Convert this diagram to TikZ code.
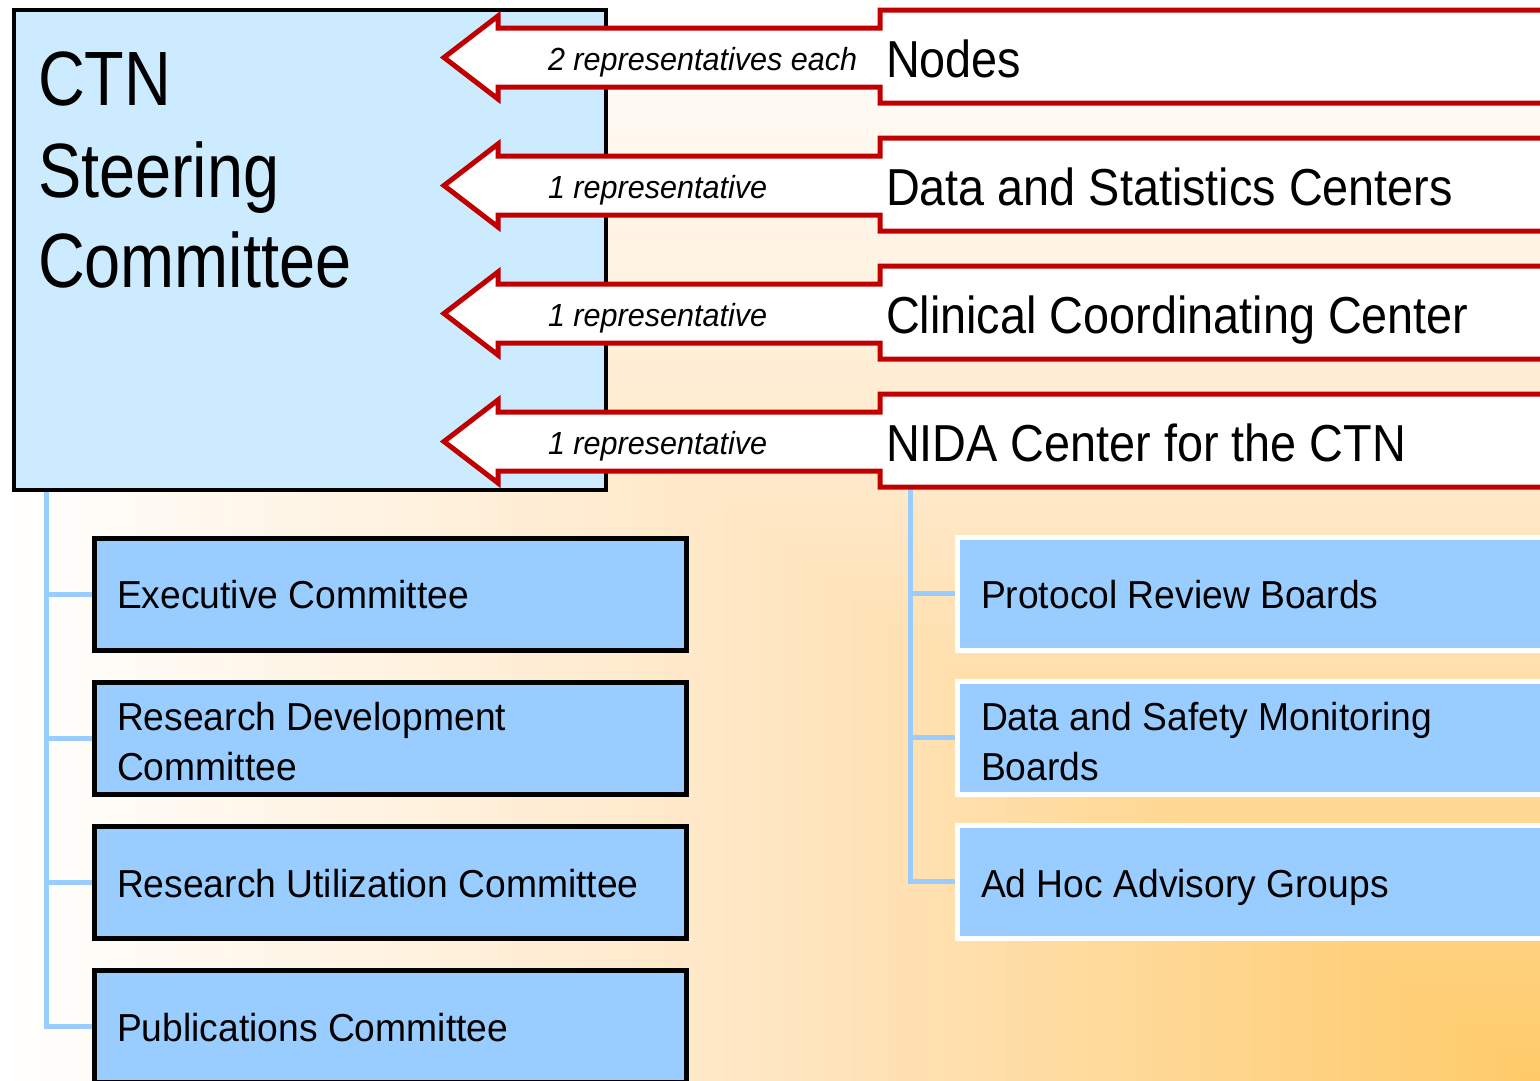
\documentclass[tikz,border=0pt]{standalone}
\usepackage{fontspec}
\setmainfont{Liberation Sans}[FakeStretch=0.82]
\newfontfamily\fsteer{Liberation Sans}[FakeStretch=0.842]
\newfontfamily\fgrp{Liberation Sans}[FakeStretch=0.90]
\newfontfamily\fsub{Liberation Sans}[FakeStretch=0.955]
\definecolor{bgor}{HTML}{FFCA68}
\definecolor{bgmid}{HTML}{FFE6C2}
\definecolor{steerfill}{HTML}{CCEBFF}
\definecolor{subfill}{HTML}{99CCFF}
\definecolor{redline}{HTML}{C00000}
\begin{document}
\begin{tikzpicture}[x=1pt,y=-1pt,
  box/.style={rectangle, draw, line width=5pt, outer sep=0pt, inner sep=0pt, anchor=north west},
  leftbox/.style={box, draw=black, fill=subfill, minimum width=592pt, minimum height=112pt},
  rightbox/.style={box, draw=white, fill=subfill, minimum width=650pt, minimum height=112.5pt},
  conn/.style={draw=subfill, line width=5pt, shorten >=2.5pt},
  redshape/.style={draw=redline, fill=white, line width=5pt, line join=miter},
  txt/.style={anchor=base west, inner sep=0pt, outer sep=0pt},
  steertxt/.style={txt, font=\fsteer\fontsize{77}{91}\selectfont},
  subtxt/.style={txt, font=\fsub\fontsize{39}{50}\selectfont},
  grptxt/.style={txt, font=\fgrp\fontsize{52}{60}\selectfont},
  reptxt/.style={txt, font=\fsub\fontsize{32}{38}\selectfont\itshape}]
\useasboundingbox (0,0) rectangle (1540,1080);
% background: rectangular gradient from the bottom right corner
\shade[top color=white, bottom color=bgor, middle color=bgmid] (0,0) rectangle (1540,1080);
\shade[left color=white, right color=bgor, middle color=bgmid] (0,0) -- (0,1100) -- (1540,1100) -- (1540,1080) -- cycle;

% steering committee
\node[box, draw=black, line width=4.5pt, fill=steerfill, minimum width=592pt, minimum height=480pt] (steer) at (14,10) {};
\node[steertxt] (ctn) at (38,105) {CTN};
\node[steertxt] (steering) at (38,197) {Steering};
\node[steertxt] (committee) at (38,287) {Committee};

% connector bus coordinates
\coordinate (lbus) at (46,492);
\coordinate (rbus) at (910.5,488);

% left committees
\node[leftbox] (exec) at (94,538) {};
\node[leftbox] (resdev) at (94,682) {};
\node[leftbox] (resutil) at (94,826) {};
\node[leftbox] (pub) at (94,970) {};
\draw[conn] (lbus) |- (exec.west);
\draw[conn] (lbus) |- (resdev.west);
\draw[conn] (lbus) |- (resutil.west);
\draw[conn] (lbus) |- (pub.west);
\node[subtxt] (exect) at (117,608) {Executive Committee};
\node[subtxt] (resdevt) at (117,730) {Research Development};
\node[subtxt] (resdevt2) at (117,780) {Committee};
\node[subtxt] (resutilt) at (117,897) {Research Utilization Committee};
\node[subtxt] (pubt) at (117,1041) {Publications Committee};

% right groups
\node[rightbox] (prb) at (957.5,537.5) {};
\node[rightbox] (dsmb) at (957.5,681.5) {};
\node[rightbox] (adhoc) at (957.5,825.5) {};
\draw[conn] (rbus) |- (prb.west);
\draw[conn] (rbus) |- (dsmb.west);
\draw[conn] (rbus) |- (adhoc.west);
\node[subtxt] (prbt) at (981,608) {Protocol Review Boards};
\node[subtxt] (dsmbt) at (981,730) {Data and Safety Monitoring};
\node[subtxt] (dsmbt2) at (981,780) {Boards};
\node[subtxt] (adhoct) at (981,897) {Ad Hoc Advisory Groups};

% arrows with boxes
\foreach \i/\grp/\rep in {0/Nodes/2 representatives each,
                         1/Data and Statistics Centers/1 representative,
                         2/Clinical Coordinating Center/1 representative,
                         3/NIDA Center for the CTN/1 representative} {
  \pgfmathsetmacro{\dy}{128*\i}
  \draw[redshape] (1570,10+\dy) -- (880,10+\dy) -- (880,28+\dy) -- (498,28+\dy)
     -- (498,16+\dy) -- (444,57.5+\dy) -- (498,99+\dy) -- (498,87+\dy)
     -- (880,87+\dy) -- (880,103+\dy) -- (1570,103+\dy);
  \node[grptxt] (grp\i) at (886,77+\dy) {\grp};
  \node[reptxt] (rep\i) at (548,70+\dy) {\rep};
}
\end{tikzpicture}
\end{document}
